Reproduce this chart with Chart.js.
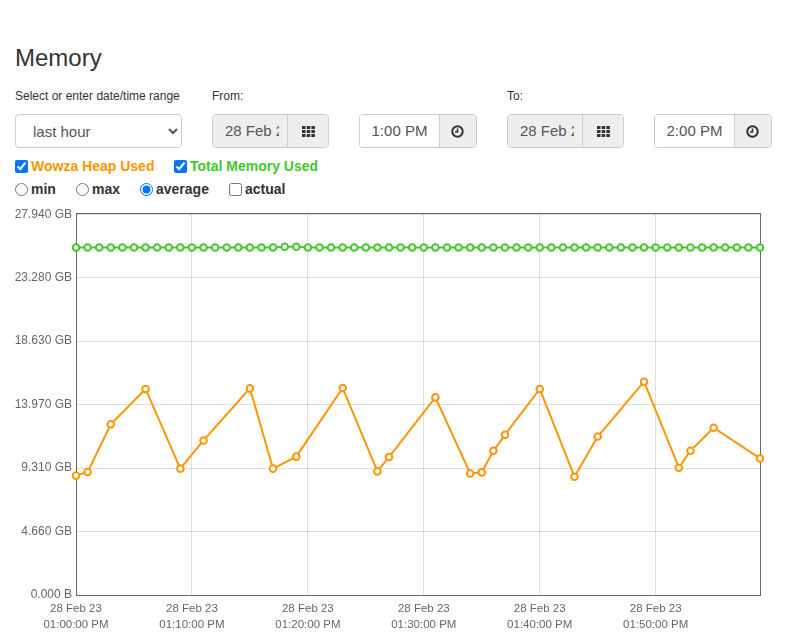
<!DOCTYPE html>
<html>
<head>
<meta charset="utf-8">
<title>Memory</title>
<script src="https://cdn.jsdelivr.net/npm/chart.js@4.4.1/dist/chart.umd.min.js"></script>
<style>
  body { margin: 0; background: #fff; color: #333; font-family: "Liberation Sans", Arial, sans-serif; font-size: 14px; }
  .page { position: relative; width: 787px; height: 634px; overflow: hidden; }
  h1 { position: absolute; left: 15px; top: 43px; margin: 0; font-size: 24px; font-weight: 400; line-height: 30px; }
  .lbl { position: absolute; top: 89px; font-size: 12px; line-height: 14px; }
  select { position: absolute; left: 15px; top: 114px; width: 167px; height: 34px; box-sizing: border-box;
    border: 1px solid #ccc; border-radius: 4px; background: #fff; color: #555; font: 15px "Liberation Sans", Arial, sans-serif; padding-left: 13px; }
  .grp { position: absolute; top: 114px; height: 34px; box-sizing: border-box; border: 1px solid #ccc; border-radius: 4px;
    display: flex; overflow: hidden; font-size: 15px; color: #555; }
  .grp .in { height: 100%; box-sizing: border-box; line-height: 32px; white-space: nowrap; overflow: hidden; }
  .grp .date { background: #eee; padding-left: 12px; }
  .grp .date span { display: block; width: 54px; overflow: hidden; }
  .grp .time { background: #fff; text-align: center; }
  .grp .btn { background: #eee; border-left: 1px solid #ccc; display: flex; align-items: center; justify-content: center; }
  .chk { position: absolute; font-weight: bold; line-height: 16px; }
  .chk input { margin: 0; width: 13px; height: 13px; position: absolute; left: 0; top: 2px; }
  .chk span { position: absolute; white-space: nowrap; }
  #chartBox { position: absolute; left: 15px; top: 203px; width: 757px; height: 431px; }
</style>
</head>
<body>
<div class="page">
  <h1>Memory</h1>

  <div class="lbl" style="left:15px">Select or enter date/time range</div>
  <div class="lbl" style="left:212px">From:</div>
  <div class="lbl" style="left:507px">To:</div>

  <select><option>last hour</option></select>

  <div class="grp" style="left:212px;width:117px">
    <div class="in date" style="width:76px"><span>28 Feb 2023</span></div>
    <div class="btn" style="width:41px"><svg width="13" height="11" viewBox="0 0 13 11"><g fill="#333">
      <rect x="0" y="0" width="3.5" height="3"/><rect x="4.7" y="0" width="3.5" height="3"/><rect x="9.4" y="0" width="3.5" height="3"/>
      <rect x="0" y="4" width="3.5" height="3"/><rect x="4.7" y="4" width="3.5" height="3"/><rect x="9.4" y="4" width="3.5" height="3"/>
      <rect x="0" y="8" width="3.5" height="3"/><rect x="4.7" y="8" width="3.5" height="3"/><rect x="9.4" y="8" width="3.5" height="3"/></g></svg></div>
  </div>
  <div class="grp" style="left:359px;width:118px">
    <div class="in time" style="width:81px">1:00 PM</div>
    <div class="btn" style="width:37px"><svg width="13" height="13" viewBox="0 0 13 13"><circle cx="6.5" cy="6.5" r="5.2" fill="none" stroke="#333" stroke-width="2"/><path d="M6.5 3.5V7H4" fill="none" stroke="#333" stroke-width="1.6"/></svg></div>
  </div>

  <div class="grp" style="left:507px;width:117px">
    <div class="in date" style="width:76px"><span>28 Feb 2023</span></div>
    <div class="btn" style="width:41px"><svg width="13" height="11" viewBox="0 0 13 11"><g fill="#333">
      <rect x="0" y="0" width="3.5" height="3"/><rect x="4.7" y="0" width="3.5" height="3"/><rect x="9.4" y="0" width="3.5" height="3"/>
      <rect x="0" y="4" width="3.5" height="3"/><rect x="4.7" y="4" width="3.5" height="3"/><rect x="9.4" y="4" width="3.5" height="3"/>
      <rect x="0" y="8" width="3.5" height="3"/><rect x="4.7" y="8" width="3.5" height="3"/><rect x="9.4" y="8" width="3.5" height="3"/></g></svg></div>
  </div>
  <div class="grp" style="left:654px;width:118px">
    <div class="in time" style="width:81px">2:00 PM</div>
    <div class="btn" style="width:37px"><svg width="13" height="13" viewBox="0 0 13 13"><circle cx="6.5" cy="6.5" r="5.2" fill="none" stroke="#333" stroke-width="2"/><path d="M6.5 3.5V7H4" fill="none" stroke="#333" stroke-width="1.6"/></svg></div>
  </div>

  <label class="chk" style="left:15px;top:158px"><input type="checkbox" id="showHeap" checked><span style="left:16px;color:#ff9500">Wowza Heap Used</span></label>
  <label class="chk" style="left:174px;top:158px"><input type="checkbox" id="showTotal" checked><span style="left:16px;color:#44c72a">Total Memory Used</span></label>

  <label class="chk" style="left:15px;top:181px"><input type="radio" name="agg"><span style="left:16px">min</span></label>
  <label class="chk" style="left:76px;top:181px"><input type="radio" name="agg"><span style="left:16px">max</span></label>
  <label class="chk" style="left:140px;top:181px"><input type="radio" name="agg" checked><span style="left:16px">average</span></label>
  <label class="chk" style="left:229px;top:181px"><input type="checkbox"><span style="left:16px">actual</span></label>

  <div id="chartBox"><canvas id="memChart" width="757" height="431"></canvas></div>
</div>

<script>
// x positions are minutes after 28 Feb 23 01:00:00 PM
const heapMinutes = [0, 1, 3, 6, 9, 11, 15, 17, 19, 23, 26, 27, 31, 34, 35, 36, 37, 40, 43, 45, 49, 52, 53, 55, 59];
// Wowza heap used, GB
const heapValues = [8.76, 9.02, 12.53, 15.12, 9.27, 11.34, 15.16, 9.27, 10.15, 15.19, 9.07, 10.12, 14.50,
  8.92, 9.00, 10.58, 11.75, 15.12, 8.68, 11.63, 15.65, 9.34, 10.58, 12.27, 10.02];

// total memory used, GB, one sample per minute from 01:00 to 01:59
const totalValues = [
  25.50, 25.50, 25.50, 25.50, 25.50, 25.50, 25.50, 25.50, 25.50, 25.50,
  25.50, 25.50, 25.50, 25.50, 25.50, 25.50, 25.50, 25.50, 25.55, 25.55,
  25.50, 25.50, 25.50, 25.50, 25.50, 25.50, 25.50, 25.50, 25.50, 25.50,
  25.50, 25.50, 25.50, 25.50, 25.50, 25.50, 25.50, 25.50, 25.50, 25.50,
  25.50, 25.50, 25.50, 25.50, 25.50, 25.50, 25.50, 25.50, 25.50, 25.50,
  25.50, 25.50, 25.50, 25.50, 25.50, 25.50, 25.50, 25.50, 25.50, 25.50
];

const xTickMinutes = [0, 10, 20, 30, 40, 50];
const xTickDates = ['28 Feb 23', '28 Feb 23', '28 Feb 23', '28 Feb 23', '28 Feb 23', '28 Feb 23'];
const xTickTimes = ['01:00:00 PM', '01:10:00 PM', '01:20:00 PM', '01:30:00 PM', '01:40:00 PM', '01:50:00 PM'];

const yTickValues = [0, 4.657, 9.313, 13.970, 18.626, 23.283, 27.940];
const yTickLabels = ['0.000 B', '4.660 GB', '9.310 GB', '13.970 GB', '18.630 GB', '23.280 GB', '27.940 GB'];

const ORANGE = '#ff9500';
const GREEN = '#44c72a';

// box round the plot area
const frame = {
  id: 'frame',
  beforeDatasetsDraw(chart) {
    const { ctx, chartArea: a } = chart;
    ctx.save();
    ctx.strokeStyle = '#666';
    ctx.lineWidth = 1;
    ctx.strokeRect(Math.round(a.left) + 0.5, Math.round(a.top) - 0.5, Math.round(a.right - a.left), Math.round(a.bottom - a.top) + 1);
    ctx.restore();
  }
};

function lineSet(label, points, color) {
  return {
    label,
    data: points,
    borderColor: color,
    backgroundColor: '#fff',
    pointBackgroundColor: '#fff',
    pointBorderColor: color,
    pointBorderWidth: 2,
    pointRadius: 3.3,
    borderWidth: 2,
    tension: 0,
    clip: false
  };
}

const chart = new Chart(document.getElementById('memChart'), {
  type: 'line',
  data: {
    datasets: [
      lineSet('Wowza Heap Used', heapMinutes.map((m, i) => ({ x: m, y: heapValues[i] })), ORANGE),
      lineSet('Total Memory Used', totalValues.map((v, i) => ({ x: i, y: v })), GREEN)
    ]
  },
  options: {
    responsive: false,
    animation: false,
    devicePixelRatio: 1,
    layout: { padding: { top: 10, right: 12, left: 0, bottom: 0 } },
    plugins: { legend: { display: false } },
    scales: {
      x: {
        type: 'linear',
        min: 0,
        max: 59,
        border: { display: false },
        grid: { color: 'rgba(0,0,0,0.13)', drawTicks: false },
        afterBuildTicks: s => { s.ticks = xTickMinutes.map(v => ({ value: v })); },
        afterFit: s => { s.height = 39; },
        ticks: {
          padding: 5,
          color: '#666',
          maxRotation: 0,
          autoSkip: false,
          font: { size: 11.5, lineHeight: 1.45 },
          callback: (v, i) => [xTickDates[i], xTickTimes[i]]
        }
      },
      y: {
        min: 0,
        max: 27.94,
        border: { display: false },
        grid: { color: 'rgba(0,0,0,0.13)', drawTicks: false },
        afterBuildTicks: s => { s.ticks = yTickValues.map(v => ({ value: v })); },
        afterFit: s => { s.width = 61; },
        ticks: {
          padding: 4,
          color: '#666',
          font: { size: 12 },
          callback: (v, i) => yTickLabels[i]
        }
      }
    }
  },
  plugins: [frame]
});

document.getElementById('showHeap').addEventListener('change', e => {
  chart.setDatasetVisibility(0, e.target.checked);
  chart.update();
});
document.getElementById('showTotal').addEventListener('change', e => {
  chart.setDatasetVisibility(1, e.target.checked);
  chart.update();
});
</script>
</body>
</html>
